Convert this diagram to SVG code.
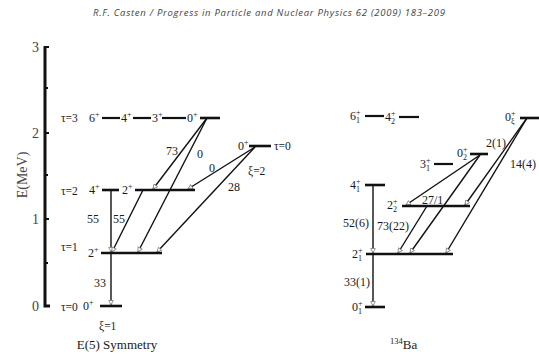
<svg xmlns="http://www.w3.org/2000/svg" width="539" height="355" viewBox="0 0 539 355" font-family="'Liberation Serif','DejaVu Serif',serif">
<style>
text{font-family:"Liberation Serif","DejaVu Serif",serif;fill:#1a1a1a;font-size:12px}
.t{font-size:11.5px}
.sm{font-size:8px}
.title{font-family:"Open Sans","Liberation Sans",sans-serif;font-style:italic;font-size:9.5px;fill:#444}
.lv{stroke:#111;stroke-width:2.6;fill:none}
.lvt{stroke:#111;stroke-width:2.2;fill:none}
.tr{stroke:#111;stroke-width:1.4;fill:none;marker-end:url(#ah)}
.ax{stroke:#111;stroke-width:3;fill:none}
.tk{stroke:#111;stroke-width:2;fill:none}
.ak{font-size:14px;fill:#444}
</style>
<defs>
<marker id="ah" viewBox="0 0 8 8" refX="7" refY="4" markerWidth="6" markerHeight="6" markerUnits="userSpaceOnUse" orient="auto">
<path d="M1,1 L7,4 L1,7 Z" fill="#fff" stroke="#888" stroke-width="1.2"/>
</marker>
</defs>
<rect width="539" height="355" fill="#fff"/>
<text class="title" x="269" y="16" text-anchor="middle" textLength="352">R.F. Casten / Progress in Particle and Nuclear Physics 62 (2009) 183–209</text>

<g id="axis">
<path class="ax" d="M45,46 V306 H50"/>
<path class="tk" d="M45,47 H49 M45,88 H48 M45,133 H49 M45,175 H48 M45,219 H49 M45,263 H48"/>
<text class="ak" x="39" y="52" text-anchor="end">3</text>
<text class="ak" x="39" y="138" text-anchor="end">2</text>
<text class="ak" x="39" y="224" text-anchor="end">1</text>
<text class="ak" x="39" y="311" text-anchor="end">0</text>
<text class="ak" transform="translate(27,175) rotate(-90)" text-anchor="middle">E(MeV)</text>
</g>

<g id="connectors">
<path class="tr" d="M111,190 V252"/>
<path class="tr" d="M111,253 V305"/>
<path class="tr" d="M143,190 L112,252"/>
<path class="tr" d="M207,118 L153,189"/>
<path class="tr" d="M207,118 L138,252"/>
<path class="tr" d="M255,147 L188,189"/>
<path class="tr" d="M255,147 L157,252"/>
<path class="tr" d="M373,185 V253"/>
<path class="tr" d="M373,254 V306"/>
<path class="tr" d="M427,206 L398,253"/>
<path class="tr" d="M480,155 L406,205"/>
<path class="tr" d="M480,155 L410,253"/>
<path class="tr" d="M527,118 L465,205"/>
<path class="tr" d="M527,118 L446,253"/>
</g>

<g id="left-labels">
<text class="t" x="61" y="122">τ=3</text>
<text class="t" x="61" y="195">τ=2</text>
<text class="t" x="61" y="251">τ=1</text>
<text class="t" x="61" y="311">τ=0</text>
<text x="87" y="223">55</text>
<text x="113" y="223">55</text>
<text x="94" y="287">33</text>
<text x="166" y="155">73</text>
<text x="197" y="158">0</text>
<text x="209" y="172">0</text>
<text x="228" y="191">28</text>
<text class="t" x="248" y="175">ξ=2</text>
<text class="t" x="99" y="330">ξ=1</text>
<text x="117" y="349" text-anchor="middle" style="font-size:13px">E(5) Symmetry</text>
</g>

<g id="L-tau3-6"><path class="lvt" d="M102,118 H120"/><text x="89" y="122">6<tspan class="sm" dy="-5">+</tspan></text></g>
<g id="L-tau3-4"><path class="lvt" d="M133,118 H151"/><text x="121" y="122">4<tspan class="sm" dy="-5">+</tspan></text></g>
<g id="L-tau3-3"><path class="lvt" d="M162,118 H186"/><text x="152" y="122">3<tspan class="sm" dy="-5">+</tspan></text></g>
<g id="L-tau3-0"><path class="lv" d="M200,118 H220"/><text x="187" y="122">0<tspan class="sm" dy="-5">+</tspan></text></g>
<g id="L-tau2-4"><path class="lv" d="M102,190 H119"/><text x="89" y="194">4<tspan class="sm" dy="-5">+</tspan></text></g>
<g id="L-tau2-2"><path class="lv" d="M135,190 H195"/><text x="122" y="194">2<tspan class="sm" dy="-5">+</tspan></text></g>
<g id="L-tau1-2"><path class="lv" d="M101,253 H162"/><text x="88" y="257">2<tspan class="sm" dy="-5">+</tspan></text></g>
<g id="L-tau0-0"><path class="lv" d="M100,306 H122"/><text x="83" y="310">0<tspan class="sm" dy="-5">+</tspan></text></g>
<g id="L-xi2-0"><path class="lv" d="M249,146 H271"/><text x="238" y="150">0<tspan class="sm" dy="-5">+</tspan></text><text class="t" x="274" y="150">τ=0</text></g>

<g id="right-labels">
<text x="486" y="147">2(1)</text>
<text x="510" y="168">14(4)</text>
<text x="422" y="204">27/1</text>
<text x="343" y="227">52(6)</text>
<text x="377" y="230">73(22)</text>
<text x="344" y="286">33(1)</text>
<text x="390" y="349" style="font-size:13px"><tspan style="font-size:8.5px" dy="-5">134</tspan><tspan dy="5">Ba</tspan></text>
</g>

<g id="R-6-1"><path class="lvt" d="M365,116 H384"/><text x="350" y="120">6<tspan class="sm" dy="-5">+</tspan><tspan class="sm" dx="-4.5" dy="8">1</tspan></text></g>
<g id="R-4-2"><path class="lvt" d="M399,117 H419"/><text x="385" y="121">4<tspan class="sm" dy="-5">+</tspan><tspan class="sm" dx="-4.5" dy="8">2</tspan></text></g>
<g id="R-0-xi"><path class="lv" d="M520,118 H539"/><text x="505" y="121">0<tspan class="sm" dy="-5">+</tspan><tspan class="sm" dx="-4.5" dy="8">ξ</tspan></text></g>
<g id="R-0-2"><path class="lv" d="M470,154 H488"/><text x="457" y="157">0<tspan class="sm" dy="-5">+</tspan><tspan class="sm" dx="-4.5" dy="8">2</tspan></text></g>
<g id="R-3-1"><path class="lvt" d="M434,164 H453"/><text x="420" y="168">3<tspan class="sm" dy="-5">+</tspan><tspan class="sm" dx="-4.5" dy="8">1</tspan></text></g>
<g id="R-4-1"><path class="lv" d="M365,185 H385"/><text x="350" y="189">4<tspan class="sm" dy="-5">+</tspan><tspan class="sm" dx="-4.5" dy="8">1</tspan></text></g>
<g id="R-2-2"><path class="lv" d="M402,206 H470"/><text x="387" y="209">2<tspan class="sm" dy="-5">+</tspan><tspan class="sm" dx="-4.5" dy="8">2</tspan></text></g>
<g id="R-2-1"><path class="lv" d="M366,254 H453"/><text x="352" y="258">2<tspan class="sm" dy="-5">+</tspan><tspan class="sm" dx="-4.5" dy="8">1</tspan></text></g>
<g id="R-0-1"><path class="lv" d="M365,307 H385"/><text x="352" y="311">0<tspan class="sm" dy="-5">+</tspan><tspan class="sm" dx="-4.5" dy="8">1</tspan></text></g>
</svg>
